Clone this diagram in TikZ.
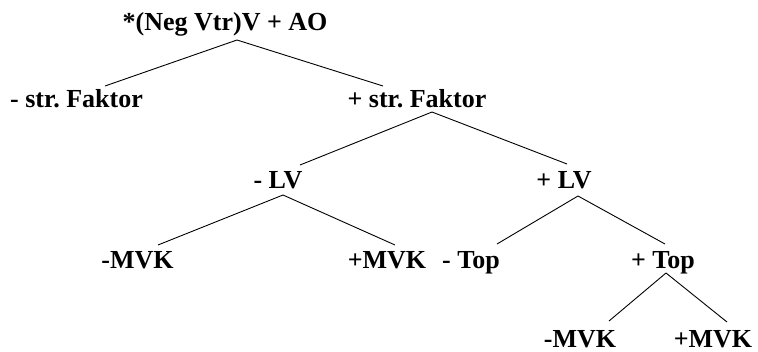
\documentclass[tikz,border=0pt]{standalone}
\usepackage{fontspec}
\setmainfont{Liberation Serif}
\frenchspacing
\begin{document}
\begin{tikzpicture}[x=1pt,y=-1pt,
  lbl/.style={inner sep=0pt,anchor=base,font=\fontsize{26}{30}\selectfont\bfseries},
  edge/.style={line width=0.9pt}]
\useasboundingbox (0,0) rectangle (758,351);
\node[lbl] (root) at (225,30) {*(Neg Vtr)V + AO};
\node[lbl] (msf) at (76.5,107) {- str. Faktor};
\node[lbl] (psf) at (417,107) {+ str. Faktor};
\node[lbl] (mlv) at (278,188) {- LV};
\node[lbl] (plv) at (564,188) {+ LV};
\node[lbl] (mmvk) at (137.5,268) {-MVK};
\node[lbl] (pmvk) at (387,268) {+MVK};
\node[lbl] (mtop) at (471,268) {- Top};
\node[lbl] (ptop) at (663,268) {+ Top};
\node[lbl] (bmmvk) at (580,347) {-MVK};
\node[lbl] (bpmvk) at (713,347) {+MVK};
\draw[edge] ([shift={(12,10)}]root.base) -- ([shift={(28.5,-21)}]msf.base);
\draw[edge] ([shift={(12,10)}]root.base) -- ([shift={(-34,-21)}]psf.base);
\draw[edge] ([shift={(15,5)}]psf.base) -- ([shift={(22,-23)}]mlv.base);
\draw[edge] ([shift={(15,5)}]psf.base) -- ([shift={(3,-24)}]plv.base);
\draw[edge] ([shift={(5,7)}]mlv.base) -- ([shift={(20.5,-23)}]mmvk.base);
\draw[edge] ([shift={(5,7)}]mlv.base) -- ([shift={(8,-23)}]pmvk.base);
\draw[edge] ([shift={(14,8)}]plv.base) -- ([shift={(26,-24)}]mtop.base);
\draw[edge] ([shift={(14,8)}]plv.base) -- ([shift={(2,-24)}]ptop.base);
\draw[edge] ([shift={(3,5)}]ptop.base) -- ([shift={(29,-26)}]bmmvk.base);
\draw[edge] ([shift={(3,5)}]ptop.base) -- ([shift={(14,-25)}]bpmvk.base);
\end{tikzpicture}
\end{document}
